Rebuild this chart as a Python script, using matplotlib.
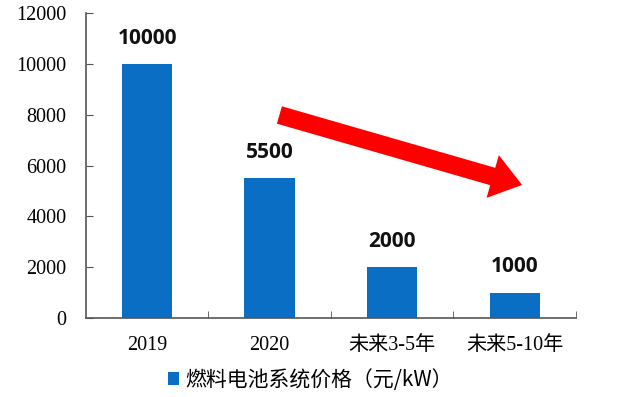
import matplotlib.pyplot as plt
from matplotlib.patches import FancyArrowPatch, ArrowStyle

categories = ["2019", "2020", "未来3-5年", "未来5-10年"]
prices = [10000, 5500, 2000, 1000]
legend_label = "燃料电池系统价格（元/kW）"
y_ticks = [0, 2000, 4000, 6000, 8000, 10000, 12000]

bar_color = "#0a6ec4"
plt.rcParams["font.family"] = ["Liberation Serif", "Noto Sans CJK SC"]

fig = plt.figure(figsize=(6.4, 3.97), dpi=100)
ax = fig.add_axes([0.134, 0.199, 0.766, 0.768])

x = list(range(len(categories)))
bars = ax.bar(x, prices, width=0.41, color=bar_color, label=legend_label)

# value labels above bars
for xi, v in zip(x, prices):
    ax.annotate(f"{v}", (xi, v), xytext=(0, 11), textcoords="offset points",
                ha="center", va="bottom", fontsize=15, fontweight="bold",
                family=["Open Sans"], color="#111111")

ax.set_xlim(-0.5, 3.5)
ax.set_ylim(0, 12000)

# labels at category centres, tick marks at the boundaries
ax.set_xticks(x)
ax.set_xticklabels(categories, fontsize=14.5)
ax.tick_params(axis="x", which="major", length=0, pad=13)
ax.set_xticks([0.5, 1.5, 2.5, 3.5], minor=True)
ax.tick_params(axis="x", which="minor", direction="in", length=5,
               color="#555555")

ax.set_yticks(y_ticks)
ax.set_yticklabels([str(t) for t in y_ticks], fontsize=14.5,
                   family=["Liberation Serif"])
ax.tick_params(axis="y", direction="in", length=5, pad=14, color="#555555")

for side in ("top", "right"):
    ax.spines[side].set_visible(False)
for side in ("left", "bottom"):
    ax.spines[side].set_color("#555555")
    ax.spines[side].set_linewidth(1.2)

# big red trend arrow
arrow = FancyArrowPatch((1.08, 7990), (3.06, 5236),
                        arrowstyle=ArrowStyle.Simple(head_length=22,
                                                     head_width=32,
                                                     tail_width=13),
                        mutation_scale=1, color="#ff0000", lw=0,
                        shrinkA=0, shrinkB=0)
ax.add_patch(arrow)

leg = fig.legend(loc="center", bbox_to_anchor=(0.485, 0.043), frameon=False,
                 prop={"family": ["Noto Sans CJK SC"], "size": 15},
                 handlelength=0.55, handleheight=0.55, handletextpad=0.3)

fig.savefig("out.png", dpi=100, facecolor="white")
